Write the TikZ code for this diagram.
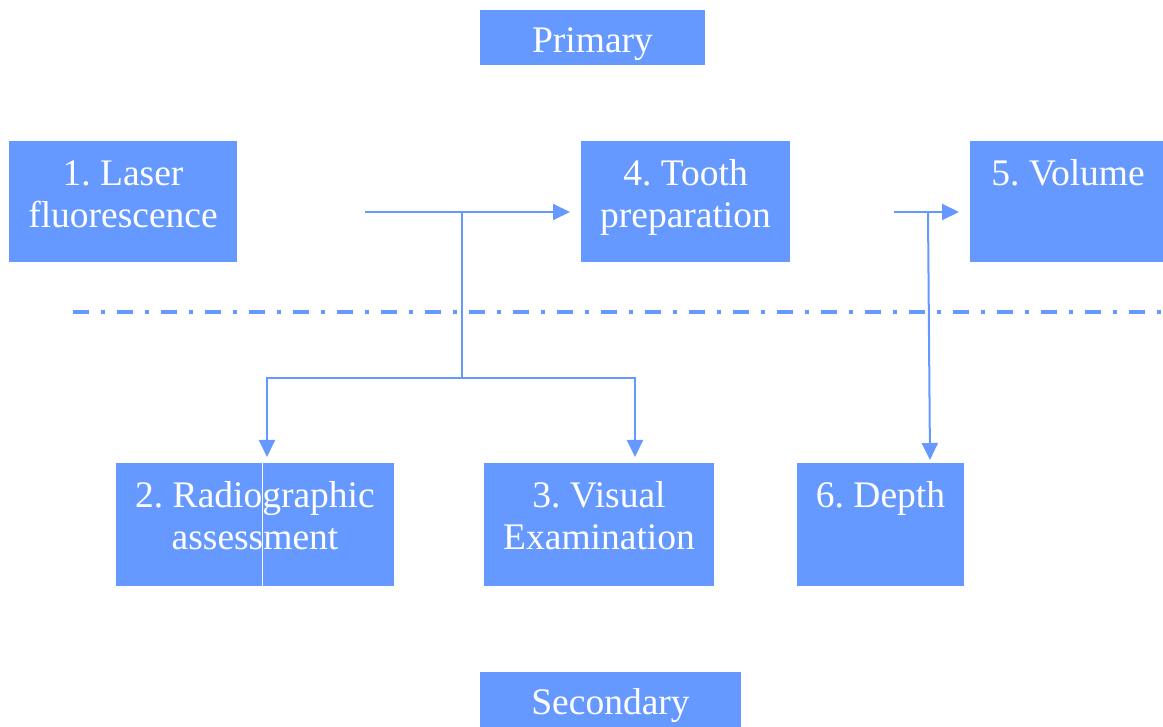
\documentclass[tikz,border=0pt]{standalone}
\usepackage{fontspec}
\setmainfont{Liberation Serif}
\usetikzlibrary{arrows.meta}
\definecolor{cblue}{RGB}{102,153,255}
\tikzset{
  box/.style={fill=cblue, draw=none, inner sep=0pt, outer sep=0pt},
  lbl/.style={text=white, align=center, inner sep=0pt, anchor=north, font=\fontsize{37.5}{42}\selectfont\frenchspacing},
  conn/.style={draw=cblue, line width=2pt},
  tip/.style={-{Triangle[length=17pt,width=16pt]}},
  sep/.style={draw=cblue, line width=3.5pt, dash pattern=on 16pt off 12pt on 4pt off 12pt}
}
\newcommand{\fr}{\rule{0pt}{30pt}}
\begin{document}
\begin{tikzpicture}[x=1pt,y=-1pt]
\useasboundingbox (0,0) rectangle (1163,727);
% boxes
\node[box, minimum width=225pt, minimum height=55pt] (bp) at (592.5,37.5) {};
\node[box, minimum width=228pt, minimum height=121pt] (b1) at (123,201.5) {};
\node[box, minimum width=209pt, minimum height=121pt] (b4) at (685.5,201.5) {};
\node[box, minimum width=193pt, minimum height=121pt] (b5) at (1066.5,201.5) {};
\node[box, minimum width=278pt, minimum height=123pt] (b2) at (255,524.5) {};
\node[box, minimum width=230pt, minimum height=123pt] (b3) at (599,524.5) {};
\node[box, minimum width=167pt, minimum height=123pt] (b6) at (880.5,524.5) {};
\node[box, minimum width=261pt, minimum height=55pt] (bs) at (610.5,699.5) {};
\draw[white, line width=1pt] (262,463) -- (262,586);
% labels
\node[lbl] (tp) at (592.5,22) {\fr Primary};
\node[lbl] (t1) at (123,155) {\fr 1. Laser\\fluorescence};
\node[lbl] (t4) at (685.5,155) {\fr 4. Tooth\\preparation};
\node[lbl] (t5) at (1068,155) {\fr 5. Volume};
\node[lbl] (t2) at (255,477) {\fr 2. Radiographic\\assessment};
\node[lbl] (t3) at (599,477) {\fr 3. Visual\\Examination};
\node[lbl] (t6) at (880.5,477) {\fr 6. Depth};
\node[lbl] (ts) at (610.5,684) {\fr Secondary};
% separator
\coordinate (s0) at (73,312);
\coordinate (s1) at (1163,312);
\draw[sep] (s0) -- (s1);
% connectors left
\coordinate (a0) at (365,212);
\coordinate (a1) at (570,212);
\coordinate (j1) at (462,212);
\coordinate (j2) at (462,378);
\coordinate (l2) at (267,457);
\coordinate (r2) at (635,457);
\draw[conn, tip] (a0) -- (a1);
\draw[conn] (j1) -- (j2);
\draw[conn, tip] (j2) -| (l2);
\draw[conn, tip] (j2) -| (r2);
% connectors right
\coordinate (c0) at (894,212);
\coordinate (c1) at (959,212);
\coordinate (k1) at (928,212);
\coordinate (k2) at (930,460);
\draw[conn, tip] (c0) -- (c1);
\draw[conn, tip] (k1) -- (k2);
\end{tikzpicture}
\end{document}
